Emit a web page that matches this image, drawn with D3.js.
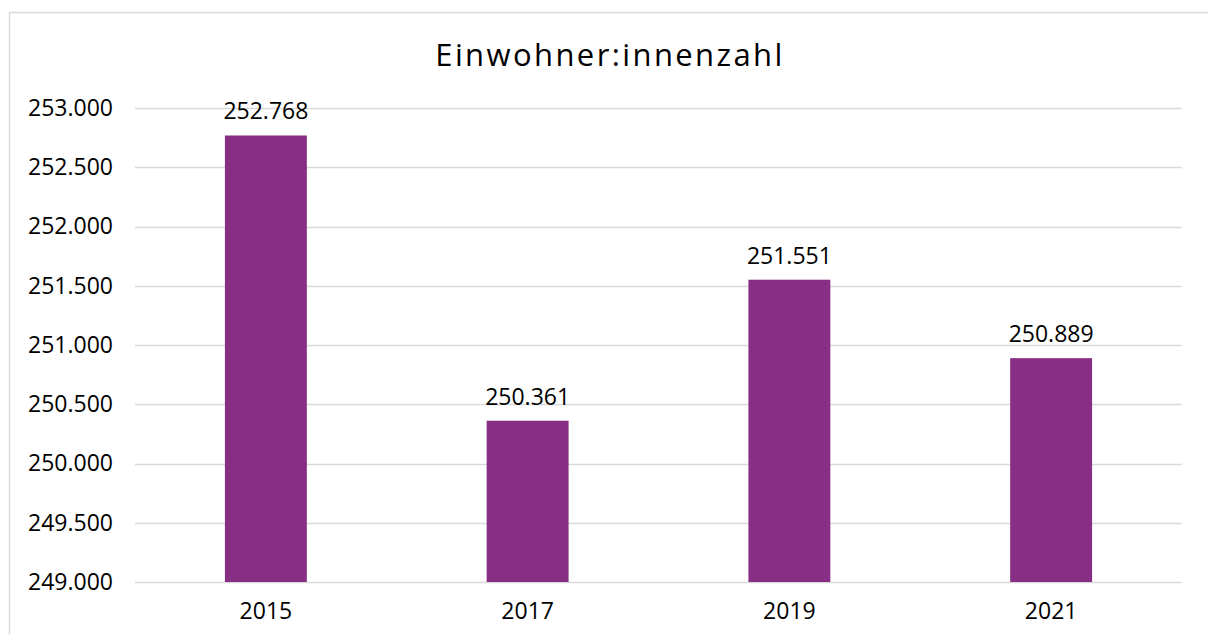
<!DOCTYPE html>
<html>
<head>
<meta charset="utf-8">
<script src="https://cdn.jsdelivr.net/npm/d3@7.9.0/dist/d3.min.js"></script>
<style>
  body { margin: 0; background: #fff; }
  svg { display: block; font-family: "Open Sans", sans-serif; }
</style>
</head>
<body>
<svg id="chart"></svg>
<script>
// data
const years = ["2015", "2017", "2019", "2021"];
const residents = [252768, 250361, 251551, 250889];
const yTicks = [249000, 249500, 250000, 250500, 251000, 251500, 252000, 252500, 253000];
const title = "Einwohner:innenzahl";

const width = 1208, height = 634;
const margin = { top: 108, right: 26, bottom: 52, left: 135 };

const svg = d3.select("#chart")
  .attr("width", width)
  .attr("height", height);

// chart frame
svg.append("rect")
  .attr("x", 9.5).attr("y", 12.5)
  .attr("width", width).attr("height", height)
  .attr("fill", "none")
  .attr("stroke", "#d9d9d9")
  .attr("stroke-width", 1.5);

const de = d3.formatLocale({ decimal: ",", thousands: ".", grouping: [3], currency: ["", "€"] });
const fmt = de.format(",.0f");

const x = d3.scaleBand()
  .domain(years)
  .range([margin.left, width - margin.right])
  .paddingInner(0.687)
  .paddingOuter(0.3435);

const y = d3.scaleLinear()
  .domain([249000, 253000])
  .range([height - margin.bottom, margin.top]);

// gridlines
svg.append("g")
  .selectAll("line")
  .data(yTicks)
  .join("line")
  .attr("x1", margin.left)
  .attr("x2", width - margin.right)
  .attr("y1", d => Math.round(y(d)) + 0.5)
  .attr("y2", d => Math.round(y(d)) + 0.5)
  .attr("stroke", "#d9d9d9")
  .attr("stroke-width", 1.5);

// y axis labels
const yAxis = svg.append("g")
  .attr("transform", `translate(${margin.left - 22},0)`)
  .call(d3.axisLeft(y).tickValues(yTicks).tickFormat(fmt).tickSize(0).tickPadding(0));
yAxis.select(".domain").remove();
yAxis.selectAll("text")
  .attr("font-family", "Open Sans, sans-serif")
  .attr("font-size", "23px")
  .attr("fill", "#000");

// x axis labels
const xAxis = svg.append("g")
  .attr("transform", `translate(0,${height - margin.bottom})`)
  .call(d3.axisBottom(x).tickSize(0).tickPadding(21));
xAxis.select(".domain").remove();
xAxis.selectAll("text")
  .attr("font-family", "Open Sans, sans-serif")
  .attr("font-size", "23px")
  .attr("fill", "#000");

const data = years.map((year, i) => ({ year, value: residents[i] }));

// bars
svg.append("g")
  .selectAll("rect")
  .data(data)
  .join("rect")
  .attr("x", d => x(d.year))
  .attr("width", x.bandwidth())
  .attr("y", d => y(d.value))
  .attr("height", d => y(249000) - y(d.value))
  .attr("fill", "#882e85");

// data labels
svg.append("g")
  .selectAll("text")
  .data(data)
  .join("text")
  .attr("x", d => x(d.year) + x.bandwidth() / 2)
  .attr("y", d => y(d.value) - 16)
  .attr("text-anchor", "middle")
  .attr("font-size", "23px")
  .attr("fill", "#000")
  .text(d => fmt(d.value));

// title
svg.append("text")
  .attr("x", 610)
  .attr("y", 66)
  .attr("text-anchor", "middle")
  .attr("font-size", "31px")
  .attr("letter-spacing", "2.4px")
  .attr("fill", "#000")
  .text(title);
</script>
</body>
</html>
